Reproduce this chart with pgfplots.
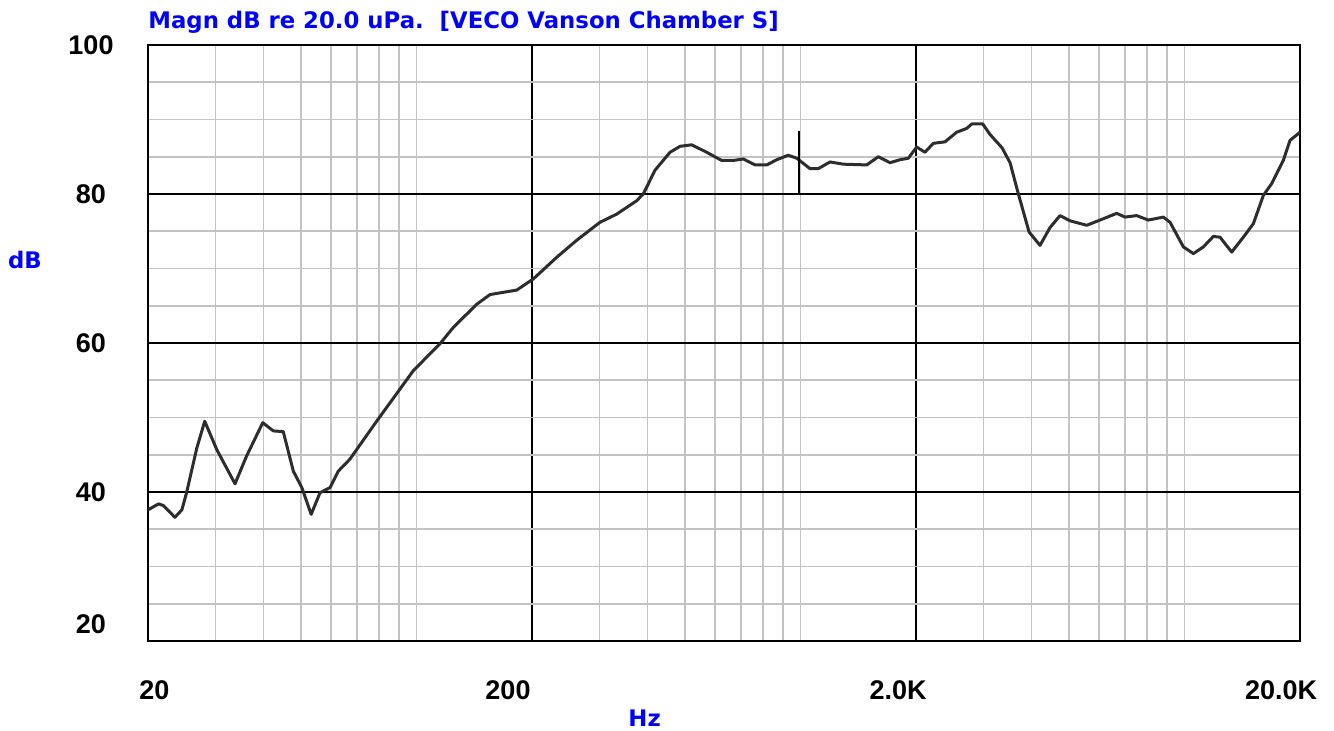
\documentclass[border=0pt]{standalone}
\usepackage{pgfplots}
\pgfplotsset{compat=1.18}
\usepackage{pgfplotstable}
\usepackage{fontspec}
\setmainfont{Liberation Sans}
\newfontfamily\dejavu{DejaVu Sans}
\definecolor{hblue}{RGB}{0,0,255}
\definecolor{mgrid}{RGB}{195,195,195}
\definecolor{curve}{RGB}{45,45,45}

\pgfplotstableread{
f db
20.0 37.6
21.3 38.4
21.9 38.2
23.5 36.6
24.5 37.6
25.2 39.9
26.8 45.9
28.1 49.5
30.2 45.7
33.7 41.1
36.1 44.8
39.8 49.3
42.4 48.2
45.0 48.1
47.8 42.8
50.3 40.6
53.2 37.0
56.1 39.9
59.6 40.6
62.6 42.8
67.1 44.4
78.8 49.5
98.2 56.3
115.2 59.9
124.8 62.1
143.6 65.2
155.5 66.5
168.4 66.8
182.5 67.1
201.6 68.6
231.9 71.5
261.6 73.8
300.6 76.2
332.4 77.3
374.8 79.1
389.8 80.0
418.2 83.2
457.6 85.6
485.8 86.4
521.0 86.6
570.0 85.6
623.8 84.5
668.6 84.5
710.2 84.7
761.6 83.9
817.2 83.9
867.6 84.6
929.8 85.2
978 84.8
1059 83.4
1113 83.4
1194 84.3
1294 84.0
1488 83.9
1595 85.0
1711 84.2
1817 84.6
1910 84.8
2008 86.3
2110 85.6
2218 86.8
2380 87.0
2553 88.3
2710 88.8
2794 89.4
2984 89.4
3116 88.0
3350 86.2
3515 84.2
3695 80.0
3940 74.9
4206 73.1
4467 75.5
4743 77.1
5036 76.4
5566 75.8
6029 76.5
6664 77.4
7004 76.9
7510 77.1
8052 76.5
8811 76.9
9174 76.2
9937 72.9
10550 72.0
11202 72.9
11893 74.3
12378 74.2
13279 72.2
14234 74.2
15115 76.0
16050 79.8
16878 81.4
18092 84.5
18836 87.2
19798 88.1
20000 88.3
}\resp

\begin{document}
\begin{tikzpicture}
\begin{axis}[name=ax, scale only axis, width=576pt, height=298pt,
  xmode=log, xmin=20, xmax=20000, ymin=20, ymax=100,
  xtick={20,200,2000,20000}, xticklabels={},
  minor xtick={30,40,50,60,70,80,90,100,300,400,500,600,700,800,900,1000,3000,4000,5000,6000,7000,8000,9000,10000},
  ytick={20,40,60,80,100}, yticklabels={,40,60,80,100},
  minor ytick={25,30,35,45,50,55,65,70,75,85,90,95},
  grid=both,
  major grid style={black, line width=0.9pt},
  minor grid style={mgrid, line width=0.8pt},
  major tick length=0pt, minor tick length=0pt,
  axis line style={black, line width=1.3pt},
  tick label style={font=\fontsize{13.5}{15}\selectfont\bfseries},
  /pgf/number format/assume math mode=true,
  yticklabel style={anchor=center, xshift=-28.5pt},
  xticklabel style={anchor=center, yshift=-24.5pt},
  extra x ticks={20.79,173.2,1796,17850},
  extra x tick labels={20,200,2.0K,20.0K},
  extra x tick style={grid=none},
  extra y ticks={22.3}, extra y tick labels={20},
  extra y tick style={grid=none},
]
\addplot[curve, line width=1.5pt, line join=round] table[x=f, y=db] {\resp};
\addplot[black, line width=1pt] coordinates {(991,80.1) (991,88.4)};
\end{axis}
\node[anchor=west, inner sep=0pt, text=hblue, font=\dejavu\bfseries\fontsize{11.4}{13}\selectfont]
  at ([yshift=11.5pt]ax.north west) {Magn dB re 20.0 uPa.\ \ [VECO Vanson Chamber S]};
\node[anchor=center, inner sep=0pt, text=hblue, font=\dejavu\bfseries\fontsize{11.4}{13}\selectfont]
  at ([xshift=-61.5pt, yshift=190.7pt]ax.south west) {dB};
\node[anchor=center, inner sep=0pt, text=hblue, font=\dejavu\bfseries\fontsize{11.4}{13}\selectfont]
  at ([xshift=248.3pt, yshift=-38.5pt]ax.south west) {Hz};
\path ([xshift=-74pt,yshift=-45pt]ax.south west) rectangle ([xshift=17pt,yshift=22.5pt]ax.north east);
\end{tikzpicture}
\end{document}
